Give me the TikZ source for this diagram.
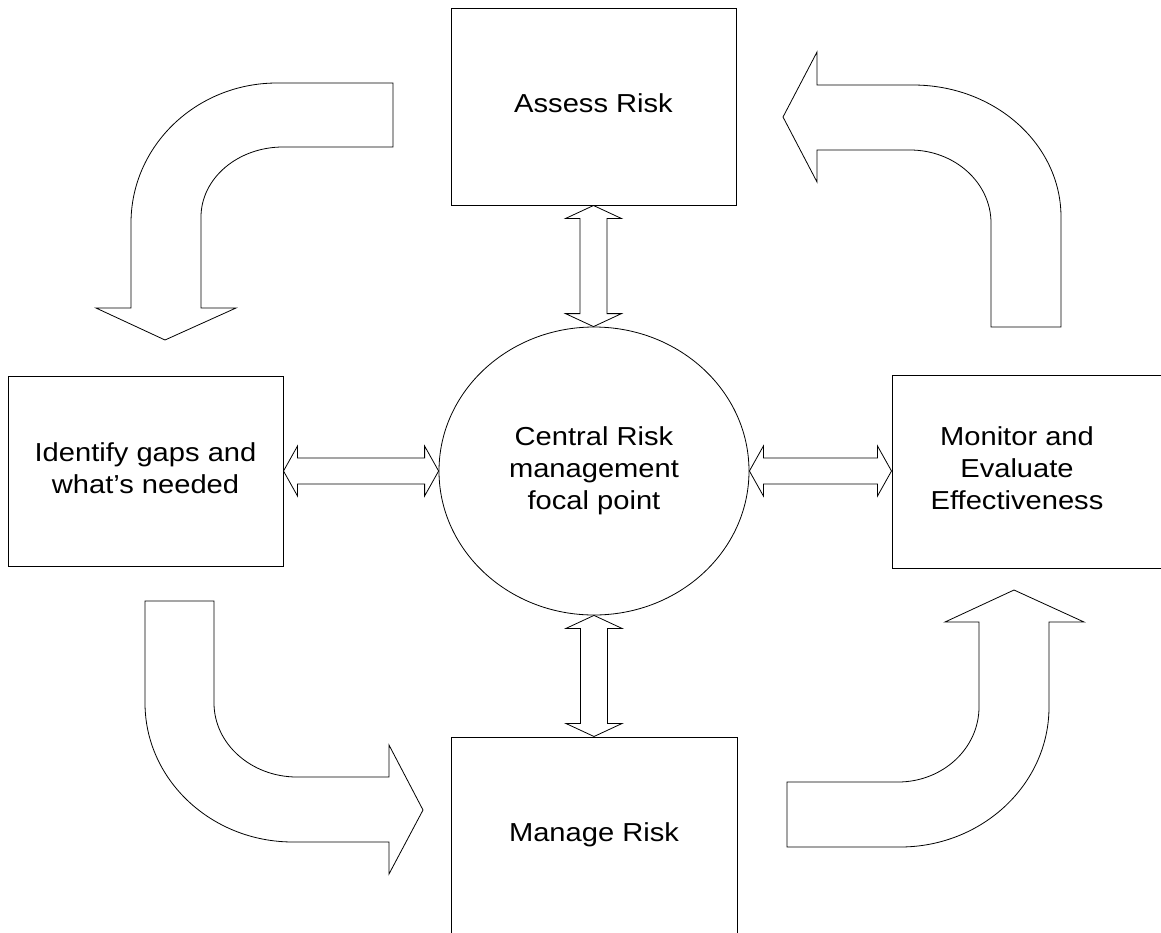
\documentclass[tikz,border=0pt]{standalone}
\usepackage{fontspec}
\usepackage{graphicx}
\setmainfont{Liberation Sans}
\usetikzlibrary{shapes.geometric,calc}
\newcommand\lbl[1]{\scalebox{1.12}[1]{\begin{tabular}{@{}c@{}}#1\end{tabular}}}
\tikzset{
  txt/.style={font=\fontsize{26}{32}\selectfont, inner sep=0pt},
  box/.style={draw, line width=1pt, rectangle, inner sep=0pt, txt},
  blk/.style={draw, line width=0.8pt, line join=miter},
}
\newcommand\hdbl[2]{\draw[blk] let \p1=(#1),\p2=(#2) in
 (\x1,\y1) -- (\x1+14pt,\y1+25pt) -- (\x1+14pt,\y1+13pt) -- (\x2-14pt,\y1+13pt) -- (\x2-14pt,\y1+25pt) -- (\x2,\y1) -- (\x2-14pt,\y1-25pt) -- (\x2-14pt,\y1-13pt) -- (\x1+14pt,\y1-13pt) -- (\x1+14pt,\y1-25pt) -- cycle;}
\newcommand\vdbl[2]{\draw[blk] let \p1=(#1),\p2=(#2) in
 (\x1,\y1) -- (\x1+28pt,\y1-13pt) -- (\x1+13.5pt,\y1-13pt) -- (\x1+13.5pt,\y2+13pt) -- (\x1+28pt,\y2+13pt) -- (\x1,\y2) -- (\x1-28pt,\y2+13pt) -- (\x1-13.5pt,\y2+13pt) -- (\x1-13.5pt,\y1-13pt) -- (\x1-28pt,\y1-13pt) -- cycle;}
\begin{document}
\begin{tikzpicture}[x=1pt,y=-1pt]
\useasboundingbox (0,0) rectangle (1161,932);
\clip (0,0) rectangle (1161,932);
% boxes
\node[box, minimum width=285pt, minimum height=197pt] (ass) at (593.5,106.5) {\lbl{Assess Risk}};
\node[box, minimum width=275pt, minimum height=190pt] (idf) at (145.5,471) {\lbl{Identify gaps and\\what’s needed}};
\node[draw, line width=0.8pt, ellipse, inner sep=0pt, minimum width=310pt, minimum height=288pt, txt] (ctr) at (594,471) {\lbl{Central Risk\\management\\focal point}};
\node[box, minimum width=298pt, minimum height=193pt] (mon) at (1041,471.5) {};
\node[txt] (monT) at (1017,471) {\lbl{Monitor and\\Evaluate\\Effectiveness}};
\node[box, minimum width=286pt, minimum height=196pt] (man) at (594,835) {\lbl{Manage Risk}};
% double arrows
\hdbl{idf.east}{ctr.west}
\hdbl{ctr.east}{mon.west}
\vdbl{ass.south}{ctr.north}
\vdbl{ctr.south}{man.north}
% bent arrows
\draw[blk] (393,83) -- (277,83) .. controls (196.4,83) and (131,145.7) .. (131,223)
  -- (131,308) -- (96,308) -- (165,340) -- (236,308) -- (201,308) -- (201,217)
  .. controls (201,178.4) and (237.7,147) .. (283,147) -- (393,147) -- cycle;
\draw[blk] (783,117) -- (817,52) -- (817,85) -- (913,85)
  .. controls (994.7,85) and (1061,144.1) .. (1061,217) -- (1061,327) -- (991,327) -- (991,223)
  .. controls (991,182.7) and (954.7,150) .. (910,150) -- (817,150) -- (817,182) -- cycle;
\draw[blk] (145,601) -- (214,601) -- (214,703)
  .. controls (214,743.8) and (251.2,777) .. (297,777) -- (389,777) -- (389,745) -- (423,810)
  -- (389,874) -- (389,842) -- (293,842) .. controls (211.3,842) and (145,779.7) .. (145,703) -- cycle;
\draw[blk] (1014,590) -- (1084,622) -- (1049,622) -- (1049,707)
  .. controls (1049,784.3) and (982.2,847) .. (900,847) -- (787,847) -- (787,782) -- (898,782)
  .. controls (942.7,782) and (979,748.4) .. (979,707) -- (979,622) -- (945,622) -- cycle;
\end{tikzpicture}
\end{document}
